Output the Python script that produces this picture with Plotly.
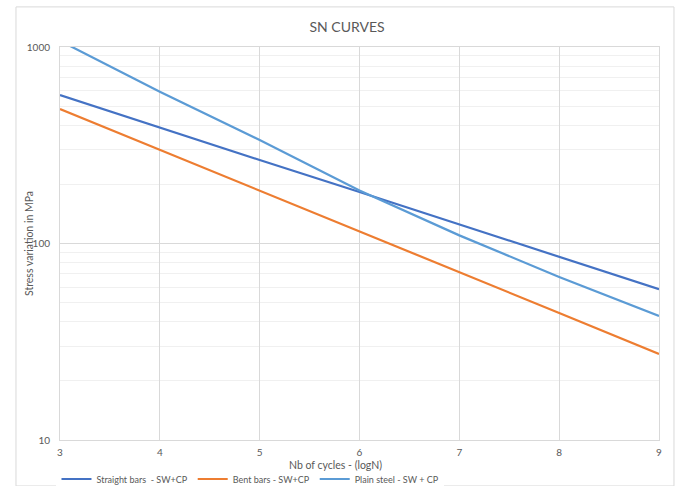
import plotly.graph_objects as go

x_cycles = [3, 4, 5, 6, 7, 8, 9]
straight_bars = [570, 389, 266, 183, 125, 85, 58.5]
bent_bars = [483, 300, 186, 115, 71.3, 44.3, 27.4]
plain_steel = [1075, 592, 336, 186, 110, 67.6, 42.8]

series = [
    ("Straight bars  - SW+CP", straight_bars, "#4472C4"),
    ("Bent bars - SW+CP", bent_bars, "#ED7D31"),
    ("Plain steel - SW + CP", plain_steel, "#5B9BD5"),
]

fig = go.Figure()
for name, vals, col in series:
    fig.add_trace(go.Scatter(x=x_cycles, y=vals, mode="lines", name=name,
                             line=dict(color=col, width=2.2)))

font_fam = "Lato, 'Open Sans', sans-serif"
grey = "#595959"

fig.update_layout(
    width=676, height=486,
    margin=dict(l=60, r=17, t=47, b=46, autoexpand=False),
    paper_bgcolor="white", plot_bgcolor="white",
    font=dict(family=font_fam, color=grey, size=10),
    title=dict(text="SN CURVES", x=347 / 676, xanchor="center", yref="container",
               y=1 - 27 / 486, yanchor="middle",
               font=dict(size=14, color=grey, family=font_fam)),
    showlegend=True,
    legend=dict(orientation="h", x=0.318, xanchor="center", yref="container",
                y=1 - 479 / 486, yanchor="middle",
                font=dict(size=9, color=grey), itemwidth=30, tracegroupgap=0),
    xaxis=dict(range=[3, 9], dtick=1, tick0=3, showgrid=True, gridcolor="#D9D9D9",
               gridwidth=1, zeroline=False, showline=True, linecolor="#D9D9D9",
               mirror=True, ticks="", tickfont=dict(size=10, color=grey),
               ticklabelstandoff=3, automargin=False),
    yaxis=dict(type="log", range=[1, 3], tickvals=[10, 100, 1000],
               ticktext=["10", "100", "1000"], showgrid=True, gridcolor="#D9D9D9",
               gridwidth=1, zeroline=False, showline=True, linecolor="#D9D9D9",
               mirror=True, ticks="", tickfont=dict(size=10, color=grey),
               ticklabelstandoff=7, automargin=False,
               minor=dict(showgrid=True, gridcolor="#F0F0F0", gridwidth=1,
                          tickvals=[v * d for d in (10, 100) for v in range(2, 10)])),
    annotations=[
        dict(text="Nb of cycles - (logN)", xref="paper", yref="paper",
             x=(335 - 60) / 599, y=(440 - 465) / 393, xanchor="center",
             yanchor="middle", showarrow=False,
             font=dict(size=10.5, color=grey, family=font_fam)),
        dict(text="Stress variation in MPa", xref="paper", yref="paper",
             x=(29 - 60) / 599, y=(440 - 244) / 393, xanchor="center",
             yanchor="middle", showarrow=False, textangle=-90,
             font=dict(size=10.5, color=grey, family=font_fam)),
    ],
    shapes=[dict(type="rect", xref="paper", yref="paper",
                 x0=-0.0735, x1=1.025, y0=-0.117, y1=1.102,
                 line=dict(color="#D9D9D9", width=1), fillcolor="rgba(0,0,0,0)",
                 layer="below")],
)

fig.write_html("out.html", config={"displayModeBar": False},
               post_script="document.body.style.margin='0';")
